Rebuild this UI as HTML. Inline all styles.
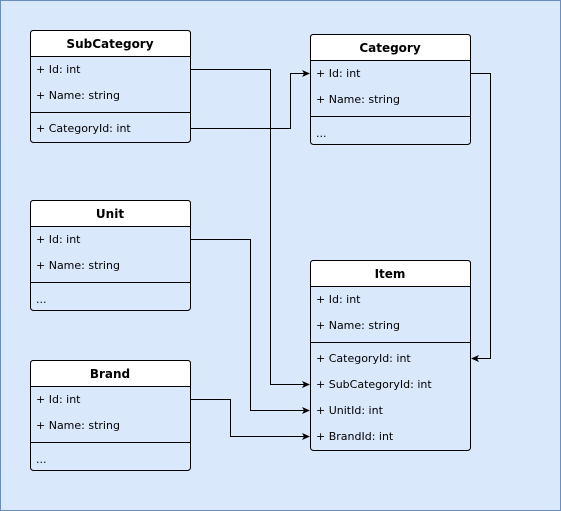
<!DOCTYPE html>
<html><head><meta charset="utf-8"><style>
html,body{margin:0;padding:0;background:#dae8fc;}
svg{display:block;font-family:"DejaVu Sans","Liberation Sans",sans-serif;}
</style></head><body>
<svg width="561" height="511" viewBox="0 0 561 511" xmlns="http://www.w3.org/2000/svg">
<defs><marker id="a" markerWidth="8" markerHeight="8" refX="7" refY="4" orient="auto" markerUnits="userSpaceOnUse"><path d="M0,0.5 L8,4 L0,7.5 L2,4 Z" fill="#000"/></marker></defs>
<rect x="0.5" y="0.5" width="560" height="510" fill="#dae8fc" stroke="#6c8ebf"/>
<g fill="none" stroke="#000" stroke-width="1">
<path d="M190.5,69.5 H270.5 V384.5 H309" marker-end="url(#a)"/>
<path d="M190.5,128.5 H290.5 V73.5 H309" marker-end="url(#a)"/>
<path d="M470.5,73.5 H490.5 V358.5 H472" marker-end="url(#a)"/>
<path d="M190.5,239.5 H250.5 V410.5 H309" marker-end="url(#a)"/>
<path d="M190.5,399.5 H230.5 V436.5 H309" marker-end="url(#a)"/>
</g>
<g font-size="11" fill="#000">
<!-- SubCategory -->
<rect x="30.5" y="30.5" width="160" height="112" rx="3" fill="#dae8fc" stroke="#000"/>
<path d="M30.5,56.5 V33.5 Q30.5,30.5 33.5,30.5 H187.5 Q190.5,30.5 190.5,33.5 V56.5 Z" fill="#fff" stroke="#000"/>
<line x1="30.5" y1="112.5" x2="190.5" y2="112.5" stroke="#000"/>
<text x="110" y="48" text-anchor="middle" font-weight="bold" font-size="12">SubCategory</text>
<text x="36" y="73">+ Id: int</text><text x="36" y="99">+ Name: string</text><text x="36" y="132">+ CategoryId: int</text>
<!-- Category -->
<rect x="310.5" y="34.5" width="160" height="110" rx="3" fill="#dae8fc" stroke="#000"/>
<path d="M310.5,60.5 V37.5 Q310.5,34.5 313.5,34.5 H467.5 Q470.5,34.5 470.5,37.5 V60.5 Z" fill="#fff" stroke="#000"/>
<line x1="310.5" y1="116.5" x2="470.5" y2="116.5" stroke="#000"/>
<text x="390" y="52" text-anchor="middle" font-weight="bold" font-size="12">Category</text>
<text x="316" y="77">+ Id: int</text><text x="316" y="103">+ Name: string</text><text x="316" y="137">...</text>
<!-- Unit -->
<rect x="30.5" y="200.5" width="160" height="110" rx="3" fill="#dae8fc" stroke="#000"/>
<path d="M30.5,226.5 V203.5 Q30.5,200.5 33.5,200.5 H187.5 Q190.5,200.5 190.5,203.5 V226.5 Z" fill="#fff" stroke="#000"/>
<line x1="30.5" y1="282.5" x2="190.5" y2="282.5" stroke="#000"/>
<text x="110" y="218" text-anchor="middle" font-weight="bold" font-size="12">Unit</text>
<text x="36" y="243">+ Id: int</text><text x="36" y="269">+ Name: string</text><text x="36" y="303">...</text>
<!-- Brand -->
<rect x="30.5" y="360.5" width="160" height="110" rx="3" fill="#dae8fc" stroke="#000"/>
<path d="M30.5,386.5 V363.5 Q30.5,360.5 33.5,360.5 H187.5 Q190.5,360.5 190.5,363.5 V386.5 Z" fill="#fff" stroke="#000"/>
<line x1="30.5" y1="442.5" x2="190.5" y2="442.5" stroke="#000"/>
<text x="110" y="378" text-anchor="middle" font-weight="bold" font-size="12">Brand</text>
<text x="36" y="403">+ Id: int</text><text x="36" y="429">+ Name: string</text><text x="36" y="463">...</text>
<!-- Item -->
<rect x="310.5" y="260.5" width="160" height="190" rx="3" fill="#dae8fc" stroke="#000"/>
<path d="M310.5,286.5 V263.5 Q310.5,260.5 313.5,260.5 H467.5 Q470.5,260.5 470.5,263.5 V286.5 Z" fill="#fff" stroke="#000"/>
<line x1="310.5" y1="342.5" x2="470.5" y2="342.5" stroke="#000"/>
<text x="390" y="278" text-anchor="middle" font-weight="bold" font-size="12">Item</text>
<text x="316" y="303">+ Id: int</text><text x="316" y="329">+ Name: string</text>
<text x="316" y="362">+ CategoryId: int</text><text x="316" y="388">+ SubCategoryId: int</text>
<text x="316" y="414">+ UnitId: int</text><text x="316" y="440">+ BrandId: int</text>
</g>
</svg>
</body></html>
